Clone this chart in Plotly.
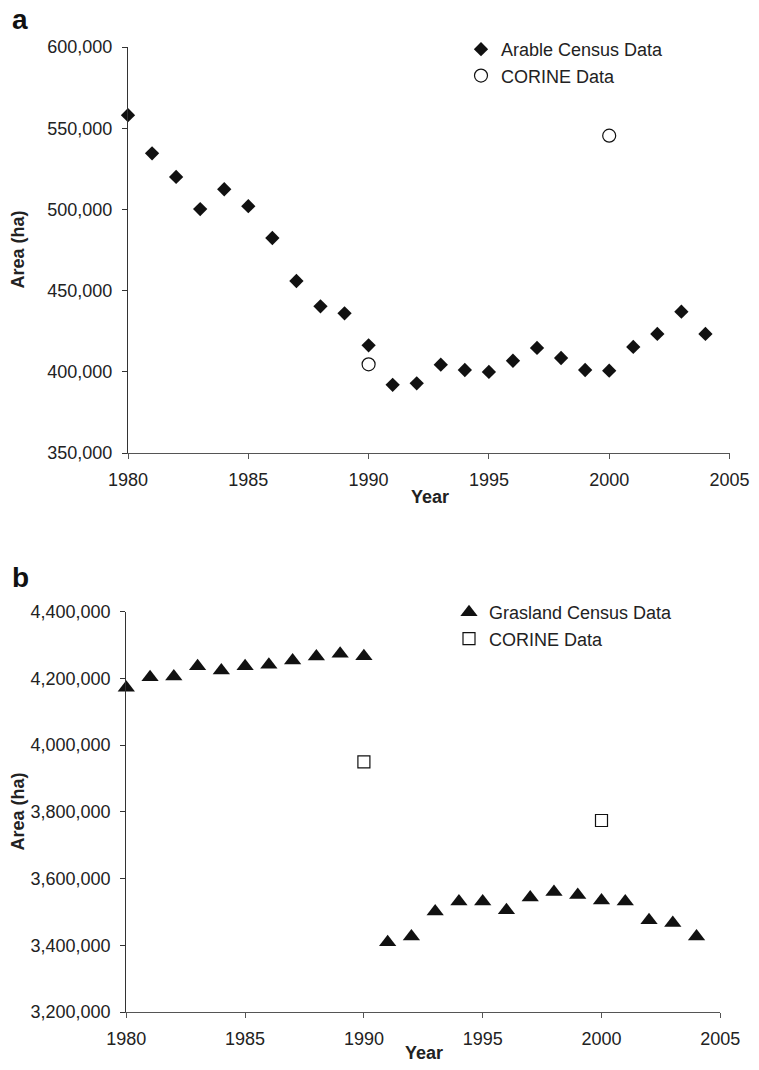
import plotly.graph_objects as go

# The page body has an 8px default margin; the figure is sized so the page does
# not overflow the 759x1070 window. All positions below are window pixels.
OFF = 8
W, H = 759 - OFF, 1070 - 2 * OFF

# ---- Data: panel a (arable) ----
years_a = list(range(1980, 2005))
arable_census = [558000, 534500, 520000, 500200, 512400, 502000, 482400, 455900,
                 440300, 436000, 416300, 392000, 392900, 404400, 401100, 399900,
                 406800, 414700, 408500, 401100, 400700, 415300, 423300, 437000,
                 423300]
corine_years_a = [1990, 2000]
corine_a = [404600, 545400]

# ---- Data: panel b (grassland) ----
years_b = list(range(1980, 2005))
grass_census = [4172000, 4203700, 4206000, 4236700, 4224000, 4236700, 4240800,
                4253700, 4265700, 4274000, 4266600, 3409000, 3426000, 3501000,
                3531000, 3531000, 3505000, 3543000, 3560000, 3551000, 3534000,
                3531000, 3475000, 3467000, 3426000]
corine_years_b = [1990, 2000]
corine_b = [3950000, 3774000]

x_ticks = [1980, 1985, 1990, 1995, 2000, 2005]

FONT = "Liberation Sans, Arial, sans-serif"
TXT = "#222222"
MK = "#111111"

def px_x(p):
    return (p - OFF) / W

def px_y(p):
    return 1 - (p - OFF) / H

fig = go.Figure()

fig.add_trace(go.Scatter(x=years_a, y=arable_census, mode="markers", name="Arable Census Data",
                         marker=dict(symbol="diamond", size=11, color=MK, line=dict(width=0)),
                         xaxis="x", yaxis="y", legend="legend", cliponaxis=False))
fig.add_trace(go.Scatter(x=corine_years_a, y=corine_a, mode="markers", name="CORINE Data",
                         marker=dict(symbol="circle-open", size=13, color=MK, line=dict(width=1.2, color=MK)),
                         xaxis="x", yaxis="y", legend="legend", cliponaxis=False))
fig.add_trace(go.Scatter(x=years_b, y=grass_census, mode="markers", name="Grasland Census Data",
                         marker=dict(symbol="triangle-up", size=15, color=MK, line=dict(width=0)),
                         xaxis="x2", yaxis="y2", legend="legend2", cliponaxis=False))
fig.add_trace(go.Scatter(x=corine_years_b, y=corine_b, mode="markers", name="CORINE Data",
                         marker=dict(symbol="square-open", size=12, color=MK, line=dict(width=1.2, color=MK)),
                         xaxis="x2", yaxis="y2", legend="legend2", cliponaxis=False))

common_x = dict(range=[1980, 2005], tickvals=x_ticks, showgrid=False, zeroline=False,
                showline=True, linecolor="#555555", linewidth=1.2, ticks="outside",
                ticklen=5, tickcolor="#555555", tickfont=dict(family=FONT, size=18, color=TXT),
                ticklabelstandoff=5, ticklabeloverflow="allow",
                fixedrange=True, automargin=False)
common_y = dict(showgrid=False, zeroline=False, showline=True, linecolor="#333333", linewidth=1.2,
                ticks="outside", ticklen=5, tickcolor="#333333", tickformat=",",
                tickfont=dict(family=FONT, size=18, color=TXT), ticklabelstandoff=6,
                ticklabeloverflow="allow", fixedrange=True, automargin=False)

fig.update_layout(
    template="none",
    width=W, height=H,
    margin=dict(l=0, r=0, t=0, b=0, pad=0),
    paper_bgcolor="white", plot_bgcolor="white",
    showlegend=True,
    xaxis=dict(**common_x, domain=[px_x(128), px_x(729.5)], anchor="y"),
    yaxis=dict(**common_y, range=[350000, 600000], dtick=50000,
               domain=[px_y(453), px_y(47)], anchor="x"),
    xaxis2=dict(**common_x, domain=[px_x(126.3), px_x(720.3)], anchor="y2"),
    yaxis2=dict(**common_y, range=[3200000, 4400000], dtick=200000,
                domain=[px_y(1012), px_y(611.7)], anchor="x2"),
    legend=dict(x=px_x(461), y=px_y(31), xanchor="left", yanchor="top",
                font=dict(family=FONT, size=18, color=TXT), bgcolor="rgba(0,0,0,0)",
                tracegroupgap=0, itemwidth=30, borderwidth=0),
    legend2=dict(x=px_x(449), y=px_y(594), xanchor="left", yanchor="top",
                 font=dict(family=FONT, size=18, color=TXT), bgcolor="rgba(0,0,0,0)",
                 tracegroupgap=0, itemwidth=30, borderwidth=0),
    annotations=[
        dict(text="<b>a</b>", x=px_x(10), y=px_y(20), xref="paper", yref="paper",
             xanchor="left", yanchor="middle", showarrow=False,
             font=dict(family=FONT, size=28, color="#111111")),
        dict(text="<b>b</b>", x=px_x(10), y=px_y(577), xref="paper", yref="paper",
             xanchor="left", yanchor="middle", showarrow=False,
             font=dict(family=FONT, size=28, color="#111111")),
        dict(text="<b>Area (ha)</b>", x=px_x(17.5), y=px_y(250), xref="paper", yref="paper",
             xanchor="center", yanchor="middle", showarrow=False, textangle=-90,
             font=dict(family=FONT, size=18, color=TXT)),
        dict(text="<b>Year</b>", x=px_x(430), y=px_y(497), xref="paper", yref="paper",
             xanchor="center", yanchor="middle", showarrow=False,
             font=dict(family=FONT, size=18, color=TXT)),
        dict(text="<b>Area (ha)</b>", x=px_x(17.5), y=px_y(812), xref="paper", yref="paper",
             xanchor="center", yanchor="middle", showarrow=False, textangle=-90,
             font=dict(family=FONT, size=18, color=TXT)),
        dict(text="<b>Year</b>", x=px_x(424), y=px_y(1053), xref="paper", yref="paper",
             xanchor="center", yanchor="middle", showarrow=False,
             font=dict(family=FONT, size=18, color=TXT)),
    ],
)

fig.write_html("out.html")
